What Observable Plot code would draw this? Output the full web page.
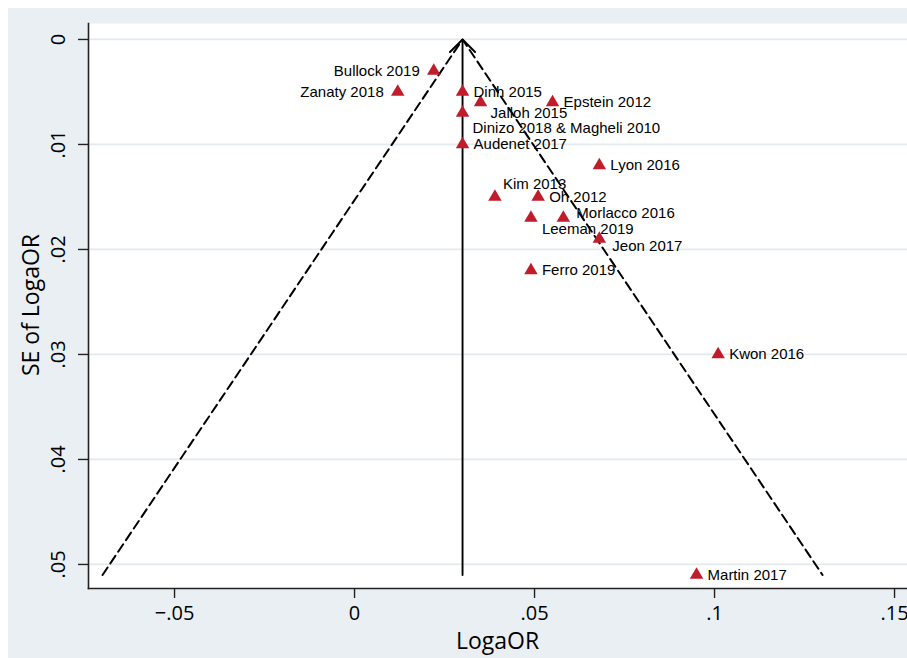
<!DOCTYPE html>
<html>
<head>
<meta charset="utf-8">
<script src="https://cdn.jsdelivr.net/npm/d3@7"></script>
<script src="https://cdn.jsdelivr.net/npm/@observablehq/plot@0.6"></script>
<style>
  html, body { margin: 0; padding: 0; background: #ffffff; }
  #wrap { position: absolute; left: 8px; top: 8px; width: 899px; height: 650px; background: #e9eff2; }
  svg { display: block; }
</style>
</head>
<body>
<div id="wrap"></div>
<script>
// Study labels, effect sizes (LogaOR) and standard errors
const studies = ["Bullock 2019","Zanaty 2018","Dinh 2015","Jalloh 2015","Epstein 2012","Dinizo 2018 & Magheli 2010","Audenet 2017","Lyon 2016","Kim 2013","Oh 2012","Leeman 2019","Morlacco 2016","Jeon 2017","Ferro 2019","Kwon 2016","Martin 2017"];
const logaOR = [0.022, 0.012, 0.030, 0.035, 0.055, 0.030, 0.030, 0.068, 0.039, 0.051, 0.049, 0.058, 0.068, 0.049, 0.101, 0.095];
const seLogaOR = [0.003, 0.005, 0.005, 0.006, 0.006, 0.007, 0.010, 0.012, 0.015, 0.015, 0.017, 0.017, 0.019, 0.022, 0.030, 0.051];
// label placement around each marker
const labelPos = ["left","left","right","lowright","right","lowright2","right","right","above","right","below","upright","lowright3","right","right","right"];

// Funnel (pseudo 95% limits) and pooled estimate line
const funnelX = [-0.07, 0.03, 0.13];
const funnelY = [0.051, 0, 0.051];
const pooledX = 0.03;
const pooledYTop = 0, pooledYBottom = 0.051;

const xTicks = [-0.05, 0, 0.05, 0.1, 0.15];
const yTicks = [0, 0.01, 0.02, 0.03, 0.04, 0.05];
const xTitle = "LogaOR";
const yTitle = "SE of LogaOR";

const xDomain = [-0.0739, 0.1536];
const yDomain = [-0.00152, 0.05229];

const fmt = d => d === 0 ? "0" : (d < 0 ? "\u2212" : "") + String(Math.abs(d)).replace(/^0/, "");

const pts = studies.map((s, i) => ({label: s, x: logaOR[i], y: seLogaOR[i], pos: labelPos[i]}));
const funnel = funnelX.map((x, i) => ({x, y: funnelY[i]}));

const offsets = {
  right: {dx: 11, dy: 0, anchor: "start"},
  left: {dx: -14, dy: 0, anchor: "end"},
  lowright: {dx: 10, dy: 11, anchor: "start"},
  lowright2: {dx: 10, dy: 15, anchor: "start"},
  lowright3: {dx: 13, dy: 7, anchor: "start"},
  above: {dx: 8, dy: -13, anchor: "start"},
  below: {dx: 11, dy: 11, anchor: "start"},
  upright: {dx: 13, dy: -5, anchor: "start"}
};

const labelMarks = Object.entries(offsets).map(([k, o]) =>
  Plot.text(pts.filter(p => p.pos === k), {
    x: "x", y: "y", text: "label", dx: o.dx, dy: o.dy, textAnchor: o.anchor,
    fontSize: 15, fill: "#000", fontFamily: "'Liberation Sans', Arial, sans-serif"
  })
);

const chart = Plot.plot({
  width: 899,
  height: 650,
  marginLeft: 80,
  marginTop: 15,
  marginRight: 0,
  marginBottom: 70,
  style: {background: "transparent", fontFamily: "'Open Sans', sans-serif"},
  x: {domain: xDomain, axis: null},
  y: {domain: yDomain, reverse: true, axis: null},
  marks: [
    Plot.frame({fill: "white", stroke: "none"}),
    Plot.gridY(yTicks, {stroke: "#e2eaee", strokeOpacity: 1, strokeWidth: 1.8}),
    Plot.frame({anchor: "left", stroke: "#222", strokeWidth: 1.6}),
    Plot.frame({anchor: "bottom", stroke: "#222", strokeWidth: 1.6}),
    Plot.axisY(yTicks, {tickSize: 10, tickFormat: () => "", label: null, stroke: "#222", strokeWidth: 1.4}),
    Plot.axisX(xTicks, {tickSize: 10, tickFormat: () => "", label: null, stroke: "#222", strokeWidth: 1.4}),
    Plot.text(yTicks, {x: xDomain[0], y: d => d, text: fmt, rotate: -90, dx: -30, textAnchor: "middle", lineAnchor: "middle", fontSize: 20, fill: "#000"}),
    Plot.text(xTicks, {x: d => d, y: yDomain[1], text: fmt, dy: 25, textAnchor: "middle", lineAnchor: "middle", fontSize: 20, fill: "#000"}),
    Plot.line(funnel, {x: "x", y: "y", stroke: "#000", strokeWidth: 2, strokeDasharray: "9,5"}),
    Plot.arrow([{x: pooledX, y1: pooledYBottom, y2: pooledYTop}], {x1: "x", x2: "x", y1: "y1", y2: "y2", stroke: "#000", strokeWidth: 1.9, headLength: 14, headAngle: 90}),
    Plot.dot(pts, {x: "x", y: "y", symbol: "triangle", r: 5, fill: "#c01c2c", stroke: "none"}),
    ...labelMarks
  ]
});

const wrap = document.getElementById("wrap");
wrap.appendChild(chart);
const xt = document.createElement("div");
xt.textContent = xTitle;
Object.assign(xt.style, {position: "absolute", left: "80px", width: "819px", top: "617px", textAlign: "center", font: "23px 'Open Sans', sans-serif", color: "#000", lineHeight: "30px"});
wrap.appendChild(xt);
const yt = document.createElement("div");
Object.assign(yt.style, {position: "absolute", left: "22px", top: "297px", width: "0px", height: "0px", font: "23px 'Open Sans', sans-serif", color: "#000"});
const inner = document.createElement("div");
inner.textContent = yTitle;
Object.assign(inner.style, {position: "absolute", left: "0", top: "0", transform: "translate(-50%, -50%) rotate(-90deg)", whiteSpace: "nowrap", lineHeight: "30px"});
yt.appendChild(inner);
wrap.appendChild(yt);
</script>
</body>
</html>
